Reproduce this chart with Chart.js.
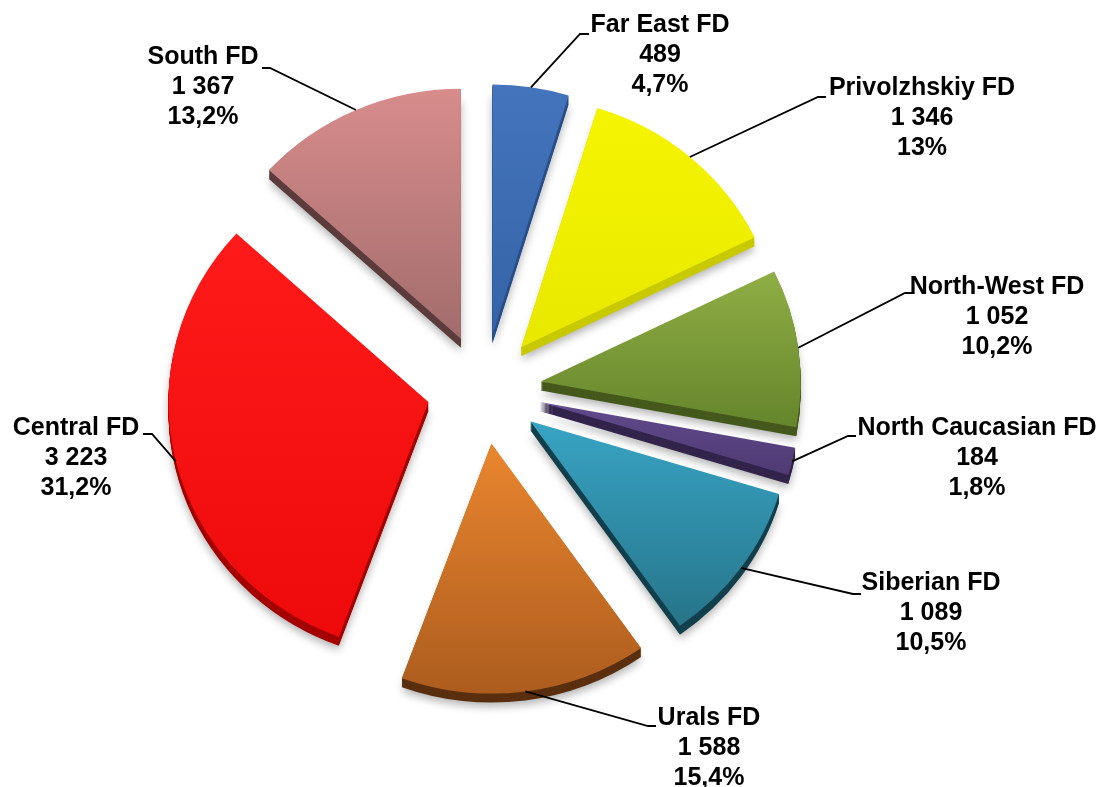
<!DOCTYPE html>
<html>
<head>
<meta charset="utf-8">
<script src="https://cdn.jsdelivr.net/npm/chart.js@4.4.1/dist/chart.umd.min.js"></script>
<style>
html, body { margin: 0; padding: 0; background: #fff; }
#wrap { width: 1101px; height: 787px; position: relative; }
</style>
</head>
<body>
<div id="wrap"><canvas id="pieChart"></canvas></div>
<script>
// data
const categories = ['Far East FD', 'Privolzhskiy FD', 'North-West FD', 'North Caucasian FD',
                    'Siberian FD', 'Urals FD', 'Central FD', 'South FD'];
const values = [489, 1346, 1052, 184, 1089, 1588, 3223, 1367];

// slice colours: top face light/dark and the side wall
const topColors    = ['#4474BC', '#F5F500', '#8FAE45', '#624A8C', '#38A4C4', '#EA862F', '#FF1A1A', '#D88C8C'];
const bottomColors = ['#3463A6', '#E8E800', '#65852B', '#4F3A73', '#267489', '#AC5C1E', '#EE0A0A', '#A26C6C'];
const sideColors   = ['#28508A', '#C9C900', '#45591D', '#32244B', '#123F4C', '#5A2F0F', '#A50000', '#5B3B3B'];

// label text centre and leader elbow (ex, ey) / end (hx)
const labelLayout = [
    { x: 660, y: 25,  ex: 580, ey: 34,  hx: 589 },
    { x: 922, y: 88,  ex: 818, ey: 97,  hx: 826 },
    { x: 997, y: 287, ex: 905, ey: 293, hx: 913 },
    { x: 977, y: 428, ex: 848, ey: 436, hx: 856 },
    { x: 931, y: 583, ex: 853, ey: 594, hx: 861 },
    { x: 709, y: 718, ex: 648, ey: 726, hx: 656 },
    { x: 76,  y: 428, ex: 152, ey: 434, hx: 143 },
    { x: 203, y: 57,  ex: 270, ey: 68,  hx: 262 }
];

const RADIUS = 250;
const EXPLODE = 55;
const DEPTH = 9;
const STRETCH_X = 1.04;   // slight perspective widening
const LABEL_FONT = 'bold 25px "Liberation Sans", Arial, sans-serif';

const total = values.reduce((a, b) => a + b, 0);

function fmtValue(v) {
    return String(v).replace(/\B(?=(\d{3})+(?!\d))/g, ' ');
}
function fmtPct(v) {
    let s = (v / total * 100).toFixed(1);
    if (s.endsWith('.0')) s = s.slice(0, -2);
    return s.replace('.', ',') + '%';
}

function sliceGradient(context) {
    const i = context.dataIndex;
    const chart = context.chart;
    const area = chart.chartArea;
    if (context.type !== 'data' || !area) return topColors[i || 0];
    const cy = (area.top + area.bottom) / 2;
    let before = 0;
    for (let k = 0; k < i; k++) before += values[k];
    const a0 = -Math.PI / 2 + before / total * 2 * Math.PI;
    const a1 = a0 + values[i] / total * 2 * Math.PI;
    let minY = cy, maxY = cy;
    for (let s = 0; s <= 24; s++) {
        const y = cy + Math.sin(a0 + (a1 - a0) * s / 24) * RADIUS;
        minY = Math.min(minY, y);
        maxY = Math.max(maxY, y);
    }
    // used after translating by the explosion, so it stays in the unexploded frame
    const g = chart.ctx.createLinearGradient(0, minY, 0, maxY + 1);
    g.addColorStop(0, topColors[i]);
    g.addColorStop(1, bottomColors[i]);
    return g;
}

const explodedPie = {
    id: 'explodedPie',
    beforeDatasetDraw(chart, args) {
        const ctx = chart.ctx;
        const arcs = args.meta.data;
        if (!arcs.length) return false;
        const px = arcs[0].x;
        ctx.save();
        ctx.translate(px, 0);
        ctx.scale(STRETCH_X, 1);
        ctx.translate(-px, 0);
        // side walls with a soft shadow under them
        arcs.forEach((arc, i) => {
            const mid = (arc.startAngle + arc.endAngle) / 2;
            const cx = arc.x + Math.cos(mid) * EXPLODE;
            const cy = arc.y + Math.sin(mid) * EXPLODE;
            ctx.save();
            ctx.fillStyle = sideColors[i];
            for (let d = DEPTH; d >= 1; d--) {
                if (d === DEPTH) {
                    ctx.shadowColor = 'rgba(0,0,0,0.3)';
                    ctx.shadowBlur = 8;
                    ctx.shadowOffsetY = 4;
                } else {
                    ctx.shadowColor = 'transparent';
                    ctx.shadowBlur = 0;
                    ctx.shadowOffsetY = 0;
                }
                ctx.beginPath();
                ctx.moveTo(cx, cy + d);
                ctx.arc(cx, cy + d, arc.outerRadius, arc.startAngle, arc.endAngle);
                ctx.closePath();
                ctx.fill();
            }
            ctx.restore();
        });
        // top faces
        arcs.forEach((arc) => {
            const mid = (arc.startAngle + arc.endAngle) / 2;
            ctx.save();
            ctx.translate(Math.cos(mid) * EXPLODE, Math.sin(mid) * EXPLODE);
            arc.draw(ctx);
            ctx.restore();
        });
        ctx.restore();
        return false;
    },
    afterDatasetsDraw(chart) {
        const ctx = chart.ctx;
        const arcs = chart.getDatasetMeta(0).data;
        ctx.save();
        ctx.strokeStyle = '#000';
        ctx.lineWidth = 1.8;
        ctx.fillStyle = '#000';
        ctx.font = LABEL_FONT;
        ctx.textAlign = 'center';
        ctx.textBaseline = 'middle';
        arcs.forEach((arc, i) => {
            const mid = (arc.startAngle + arc.endAngle) / 2;
            const r = arc.outerRadius + EXPLODE;
            const sx = arc.x + Math.cos(mid) * r * STRETCH_X;
            const sy = arc.y + Math.sin(mid) * r;
            const L = labelLayout[i];
            ctx.beginPath();
            ctx.moveTo(sx, sy);
            ctx.lineTo(L.ex, L.ey);
            ctx.lineTo(L.hx, L.ey);
            ctx.stroke();
            ctx.fillText(categories[i], L.x, L.y);
            ctx.fillText(fmtValue(values[i]), L.x, L.y + 30);
            ctx.fillText(fmtPct(values[i]), L.x, L.y + 60);
        });
        ctx.restore();
    }
};

new Chart(document.getElementById('pieChart').getContext('2d'), {
    type: 'pie',
    data: {
        labels: categories,
        datasets: [{
            data: values,
            backgroundColor: sliceGradient,
            borderWidth: 0,
            radius: RADIUS
        }]
    },
    options: {
        responsive: true,
        maintainAspectRatio: false,
        animation: false,
        radius: RADIUS,
        layout: {
            padding: { left: 0, right: 133, top: 0, bottom: 9 }
        },
        plugins: {
            legend: { display: false },
            tooltip: { enabled: false }
        }
    },
    plugins: [explodedPie]
});
</script>
</body>
</html>
